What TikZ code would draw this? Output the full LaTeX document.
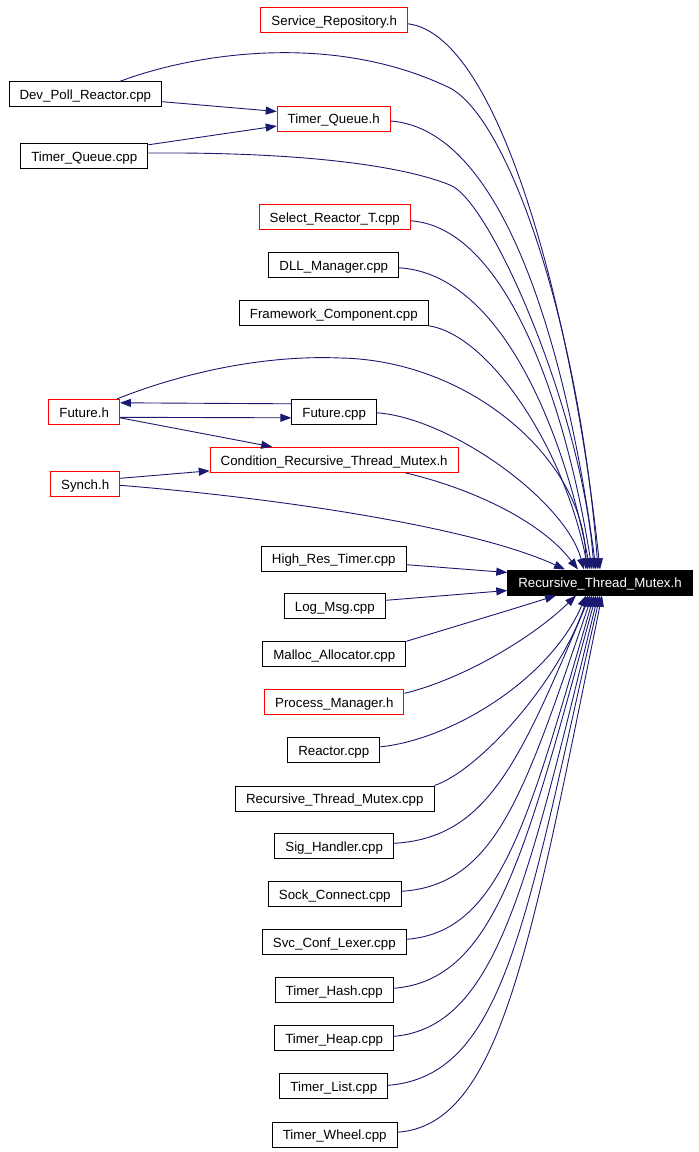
\documentclass[tikz,border=0pt]{standalone}
\usepackage{fontspec}
\setmainfont{Liberation Sans}
\usetikzlibrary{arrows.meta}
\definecolor{edgeblue}{HTML}{191970}
\tikzset{
  file/.style={draw=black, fill=white, line width=1pt, minimum height=25pt,
    inner xsep=10.5pt, inner ysep=0pt, text height=11.5pt, text depth=1.1pt,
    font=\fontsize{13.3}{16}\selectfont},
  redfile/.style={file, draw=red},
  mainfile/.style={file, fill=black, text=white},
  incl/.style={draw=edgeblue, line width=0.9pt, -{Triangle[length=11pt,width=8pt]}}
}
\begin{document}
\begin{tikzpicture}[x=1pt, y=-1pt]
      \useasboundingbox (0,0) rectangle (699,1152);
      % files
      \node[redfile] (srep) at (334.2,19.8) {Service\_Repository.h};
      \node[file] (devpoll) at (85.3,94.2) {Dev\_Poll\_Reactor.cpp};
      \node[redfile] (tqh) at (333.7,118.5) {Timer\_Queue.h};
      \node[file] (tqcpp) at (84.3,155.8) {Timer\_Queue.cpp};
      \node[redfile] (selr) at (334.8,216.8) {Select\_Reactor\_T.cpp};
      \node[file] (dllm) at (333.8,264.8) {DLL\_Manager.cpp};
      \node[file] (fwc) at (333.8,312.8) {Framework\_Component.cpp};
      \node[redfile] (futh) at (84.2,411.8) {Future.h};
      \node[file] (futcpp) at (334.2,411.8) {Future.cpp};
      \node[redfile] (cond) at (334.2,459.8) {Condition\_Recursive\_Thread\_Mutex.h};
      \node[redfile] (synch) at (85.2,483.8) {Synch.h};
      \node[file] (hrt) at (333.8,558.7) {High\_Res\_Timer.cpp};
      \node[mainfile] (rtm) at (600,582.5) {Recursive\_Thread\_Mutex.h};
      \node[file] (logmsg) at (334.8,606.3) {Log\_Msg.cpp};
      \node[file] (malloc) at (334.3,654.3) {Malloc\_Allocator.cpp};
      \node[redfile] (procm) at (334.3,702.3) {Process\_Manager.h};
      \node[file] (reactor) at (333.8,750.3) {Reactor.cpp};
      \node[file] (rtmcpp) at (334.8,798.5) {Recursive\_Thread\_Mutex.cpp};
      \node[file] (sigh) at (334.2,846.3) {Sig\_Handler.cpp};
      \node[file] (sockc) at (334.8,894.3) {Sock\_Connect.cpp};
      \node[file] (svcl) at (334.3,942.3) {Svc\_Conf\_Lexer.cpp};
      \node[file] (thash) at (334.2,990.3) {Timer\_Hash.cpp};
      \node[file] (theap) at (334.2,1038.3) {Timer\_Heap.cpp};
      \node[file] (tlist) at (333.8,1086.3) {Timer\_List.cpp};
      \node[file] (twheel) at (334.7,1134.7) {Timer\_Wheel.cpp};
      % upper includes
      \draw[incl] ([yshift=-4pt]srep.east) .. controls (503,35) and (575,330) .. (rtm.north);
      \draw[incl] ([xshift=35pt]devpoll.north) .. controls (190,55) and (330,30) .. (450,88)
        .. controls (510,120) and (580,330) .. ([xshift=-2pt]rtm.north);
      \draw[incl] ([yshift=-7.5pt]devpoll.east) -- ([yshift=7pt]tqh.west);
      \draw[incl] ([yshift=-2pt]tqcpp.north east) -- ([yshift=-7.5pt]tqh.west);
      \draw[incl] ([yshift=-2.5pt]tqh.east) .. controls (510,130) and (570,372) .. ([xshift=-4pt]rtm.north);
      \draw[incl] ([yshift=2.8pt]tqcpp.east) .. controls (300,152) and (400,165) .. (450,185)
        .. controls (490,200) and (582,410) .. ([xshift=-6pt]rtm.north);
      \draw[incl] ([yshift=-4pt]selr.east) .. controls (510,228) and (568,416) .. ([xshift=-8pt]rtm.north);
      \draw[incl] ([yshift=-3pt]dllm.east) .. controls (503,274) and (565,437) .. ([xshift=-10pt]rtm.north);
      \draw[incl] (fwc.south east) .. controls (490,335) and (565,450) .. ([xshift=-12pt]rtm.north);
      \draw[incl] ([xshift=33pt]futh.north) .. controls (190,370) and (270,355) .. (340,358)
        .. controls (470,360) and (585,460) .. ([xshift=-14pt]rtm.north);
      \draw[incl] ([yshift=8pt]futcpp.west) -- ([yshift=9pt]futh.east);
      \draw[incl] ([yshift=-5.5pt]futh.east) -- ([yshift=-6pt]futcpp.west);
      \draw[incl] ([yshift=-6pt]futh.east) -- ([xshift=-62pt]cond.north);
      \draw[incl] ([yshift=-1pt]futcpp.east) .. controls (450,418) and (565,500) .. ([xshift=-16pt]rtm.north);
      \draw[incl] ([yshift=5.5pt]synch.east) -- ([yshift=-11pt]cond.west);
      \draw[incl] ([xshift=71pt]cond.south) .. controls (470,488) and (540,520) .. ([xshift=-22pt]rtm.north);
      \draw[incl] ([yshift=-1.5pt]synch.east) .. controls (300,500) and (480,530) .. ([xshift=-35pt]rtm.north);
      % side includes
      \draw[incl] ([yshift=-6pt]hrt.east) -- ([yshift=10pt]rtm.west);
      \draw[incl] ([yshift=6pt]logmsg.east) -- ([yshift=-8pt]rtm.west);
      % lower includes
      \draw[incl] (malloc.north east) .. controls (450,628) and (510,610) .. ([xshift=-44pt]rtm.south);
      \draw[incl] ([yshift=9pt]procm.east) .. controls (460,680) and (530,640) .. ([xshift=-24pt]rtm.south);
      \draw[incl] ([yshift=3.5pt]reactor.east) .. controls (450,740) and (550,680) .. ([xshift=-14pt]rtm.south);
      \draw[incl] (rtmcpp.north east) .. controls (480,770) and (560,680) .. ([xshift=-12pt]rtm.south);
      \draw[incl] ([yshift=3pt]sigh.east) .. controls (488,838) and (520,761) .. ([xshift=-10pt]rtm.south);
      \draw[incl] ([yshift=3pt]sockc.east) .. controls (497,885) and (525,791) .. ([xshift=-8pt]rtm.south);
      \draw[incl] ([yshift=3pt]svcl.east) .. controls (500,932) and (528,823) .. ([xshift=-6pt]rtm.south);
      \draw[incl] ([yshift=2pt]thash.east) .. controls (495,980) and (525,855) .. ([xshift=-4pt]rtm.south);
      \draw[incl] ([yshift=2pt]theap.east) .. controls (496,1027) and (527,887) .. ([xshift=-2pt]rtm.south);
      \draw[incl] ([yshift=1pt]tlist.east) .. controls (505,1076) and (526,919) .. (rtm.south);
      \draw[incl] ([yshift=2.5pt]twheel.east) .. controls (500,1125) and (530,950) .. ([xshift=2pt]rtm.south);
\end{tikzpicture}
\end{document}
